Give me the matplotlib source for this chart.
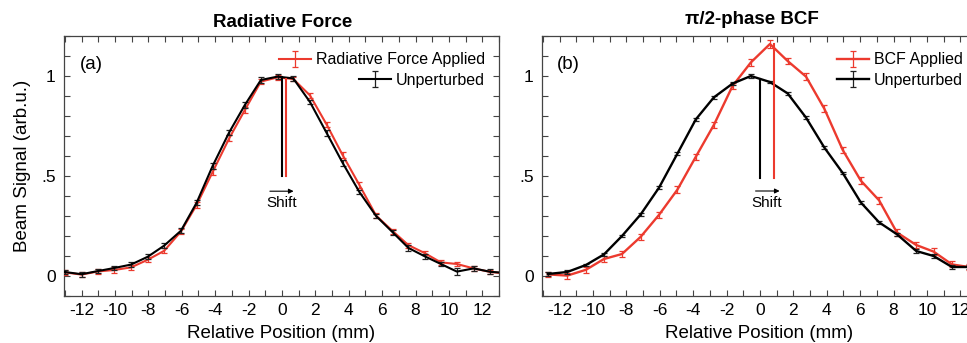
import matplotlib
matplotlib.use('Agg')
import matplotlib.pyplot as plt
from matplotlib.ticker import MultipleLocator, FixedLocator

plt.rcParams['font.family'] = ['Liberation Sans', 'DejaVu Sans']
plt.rcParams['axes.unicode_minus'] = False

# ---------------- data ----------------
pos_a = [-13.0, -12.0, -11.0, -10.04, -9.04, -8.04, -7.05, -6.05, -5.11, -4.15,
         -3.16, -2.22, -1.26, -0.26, 0.68, 1.68, 2.68, 3.64, 4.64, 5.64,
         6.64, 7.58, 8.54, 9.52, 10.48, 11.48, 12.48, 13.46]
unpert_a = [0.020, 0.009, 0.025, 0.040, 0.057, 0.096, 0.152, 0.226, 0.366, 0.550,
            0.718, 0.855, 0.980, 0.997, 0.988, 0.870, 0.715, 0.565, 0.420, 0.300,
            0.218, 0.140, 0.099, 0.060, 0.022, 0.038, 0.021, 0.015]
unpert_a_err = [0.012, 0.012, 0.012, 0.012, 0.012, 0.012, 0.013, 0.012, 0.012, 0.014,
                0.014, 0.013, 0.013, 0.013, 0.012, 0.012, 0.013, 0.013, 0.012, 0.012,
                0.012, 0.013, 0.012, 0.012, 0.016, 0.014, 0.013, 0.012]
rad_a = [0.018, 0.007, 0.023, 0.030, 0.043, 0.081, 0.126, 0.222, 0.355, 0.520,
         0.688, 0.830, 0.972, 0.993, 0.985, 0.903, 0.757, 0.604, 0.455, 0.302,
         0.224, 0.154, 0.115, 0.068, 0.060, 0.038, 0.020, 0.012]
rad_a_err = [0.012, 0.012, 0.012, 0.013, 0.014, 0.012, 0.013, 0.012, 0.013, 0.015,
             0.015, 0.014, 0.014, 0.013, 0.012, 0.013, 0.014, 0.014, 0.013, 0.012,
             0.012, 0.012, 0.012, 0.012, 0.012, 0.012, 0.012, 0.012]

pos_b = [-12.7, -11.54, -10.42, -9.34, -8.26, -7.14, -6.04, -4.94, -3.84, -2.76,
         -1.64, -0.54, 0.60, 1.66, 2.76, 3.86, 4.96, 6.04, 7.14, 8.20,
         9.36, 10.40, 11.50, 12.50]
unpert_b = [0.010, 0.020, 0.055, 0.108, 0.200, 0.308, 0.442, 0.612, 0.783, 0.893,
            0.962, 1.000, 0.970, 0.913, 0.792, 0.642, 0.515, 0.368, 0.268, 0.209,
            0.125, 0.100, 0.045, 0.045]
unpert_b_err = [0.010, 0.008, 0.007, 0.007, 0.007, 0.007, 0.007, 0.007, 0.007, 0.007,
                0.007, 0.008, 0.007, 0.007, 0.007, 0.007, 0.007, 0.007, 0.007, 0.007,
                0.008, 0.008, 0.008, 0.008]
bcf_b = [0.008, 0.002, 0.031, 0.085, 0.110, 0.196, 0.306, 0.432, 0.596, 0.755,
         0.950, 1.068, 1.160, 1.075, 0.997, 0.836, 0.630, 0.477, 0.378, 0.218,
         0.155, 0.122, 0.058, 0.045]
bcf_b_err = [0.014, 0.015, 0.015, 0.015, 0.015, 0.015, 0.016, 0.016, 0.016, 0.017,
             0.017, 0.017, 0.018, 0.016, 0.017, 0.017, 0.016, 0.016, 0.017, 0.016,
             0.015, 0.016, 0.015, 0.015]

# centre-of-mass markers: (x, y_bottom, y_top)
cm_a_unpert = (0.0, 0.50, 0.995)
cm_a_applied = (0.22, 0.50, 0.985)
cm_b_unpert = (0.0, 0.49, 0.985)
cm_b_applied = (0.82, 0.49, 1.160)

xtick_vals = [-12, -10, -8, -6, -4, -2, 0, 2, 4, 6, 8, 10, 12]
xtick_labels = ['-12', '-10', '-8', '-6', '-4', '-2', '0', '2', '4', '6', '8', '10', '12']
ytick_vals = [0, 0.5, 1]
ytick_labels = ['0', '.5', '1']

RED = '#ec3a2e'
BLACK = '#000000'
FRAME = '#444444'

W, H = 967, 343
fig = plt.figure(figsize=(W / 100, H / 100), dpi=100)
ax1 = fig.add_axes([64 / W, 47 / H, 435 / W, 260 / H])
ax2 = fig.add_axes([542 / W, 47 / H, 435 / W, 260 / H])


def style(ax):
    ax.set_xlim(-13.05, 13.0)
    ax.set_ylim(-0.1, 1.2)
    ax.xaxis.set_major_locator(FixedLocator(xtick_vals))
    ax.set_xticklabels(xtick_labels)
    ax.xaxis.set_minor_locator(MultipleLocator(1))
    ax.yaxis.set_major_locator(FixedLocator(ytick_vals))
    ax.set_yticklabels(ytick_labels)
    ax.yaxis.set_minor_locator(MultipleLocator(0.1))
    ax.tick_params(which='both', direction='in', top=True, right=True,
                   length=4, width=0.8, color=FRAME, labelsize=12.5)
    ax.tick_params(axis='x', which='major', pad=5)
    ax.tick_params(axis='y', which='major', pad=6)
    for s in ax.spines.values():
        s.set_color(FRAME)
        s.set_linewidth(0.9)
    ax.set_xlabel('Relative Position (mm)', fontsize=13.5)
    ax.xaxis.set_label_coords(0.5, -0.112)


def draw(ax, x, y_app, e_app, y_un, e_un, lab_app, cm_un, cm_app, lw, cap):
    h_app = ax.errorbar(x, y_app, yerr=e_app, color=RED, lw=lw, ecolor=RED,
                        elinewidth=0.9, capsize=cap, capthick=0.9, zorder=3)
    h_un = ax.errorbar(x, y_un, yerr=e_un, color=BLACK, lw=lw, ecolor='#222222',
                       elinewidth=0.9, capsize=cap, capthick=0.9, zorder=4)
    ax.plot([cm_un[0], cm_un[0]], [cm_un[1], cm_un[2]], color=BLACK, lw=1.5, zorder=5)
    ax.plot([cm_app[0], cm_app[0]], [cm_app[1], cm_app[2]], color=RED, lw=1.5, zorder=5)
    leg1 = ax.legend([h_app], [lab_app], loc='center right',
                     bbox_to_anchor=(0.968, 0.908), frameon=False, fontsize=11.5,
                     handlelength=2.0, handletextpad=0.3, borderpad=0,
                     borderaxespad=0)
    ax.add_artist(leg1)
    ax.legend([h_un], ['Unperturbed'], loc='center right',
              bbox_to_anchor=(0.968, 0.829), frameon=False, fontsize=11.5,
              handlelength=2.0, handletextpad=0.3, borderpad=0, borderaxespad=0)


style(ax1)
style(ax2)

draw(ax1, pos_a, rad_a, rad_a_err, unpert_a, unpert_a_err,
     'Radiative Force Applied', cm_a_unpert, cm_a_applied, 1.5, 2.2)
draw(ax2, pos_b, bcf_b, bcf_b_err, unpert_b, unpert_b_err,
     'BCF Applied', cm_b_unpert, cm_b_applied, 1.7, 2.2)

# shift arrows and labels
ax1.annotate('', xy=(0.70, 0.424), xytext=(-0.72, 0.424),
             arrowprops=dict(arrowstyle='-|>', lw=0.8, color='k', mutation_scale=7,
                             shrinkA=0, shrinkB=0))
ax1.text(0.0, 0.363, 'Shift', ha='center', va='center', fontsize=11)
ax2.annotate('', xy=(1.18, 0.425), xytext=(-0.26, 0.425),
             arrowprops=dict(arrowstyle='-|>', lw=0.8, color='k', mutation_scale=7,
                             shrinkA=0, shrinkB=0))
ax2.text(0.42, 0.365, 'Shift', ha='center', va='center', fontsize=11)

ax1.text(0.037, 0.892, '(a)', transform=ax1.transAxes, ha='left', va='center',
         fontsize=13.5)
ax2.text(0.035, 0.892, '(b)', transform=ax2.transAxes, ha='left', va='center',
         fontsize=13.5)

ax1.set_ylabel('Beam Signal (arb.u.)', fontsize=13.5)
ax1.yaxis.set_label_coords(-0.076, 0.5)

fig.text(283 / W, 1 - 27.3 / H, 'Radiative Force', ha='center', va='baseline',
         fontsize=13.5, fontweight='bold')
fig.text(752 / W, 1 - 23.5 / H, 'π/2-phase BCF', ha='center', va='baseline',
         fontsize=13.5, fontweight='bold')

fig.savefig('out.png', dpi=100)
